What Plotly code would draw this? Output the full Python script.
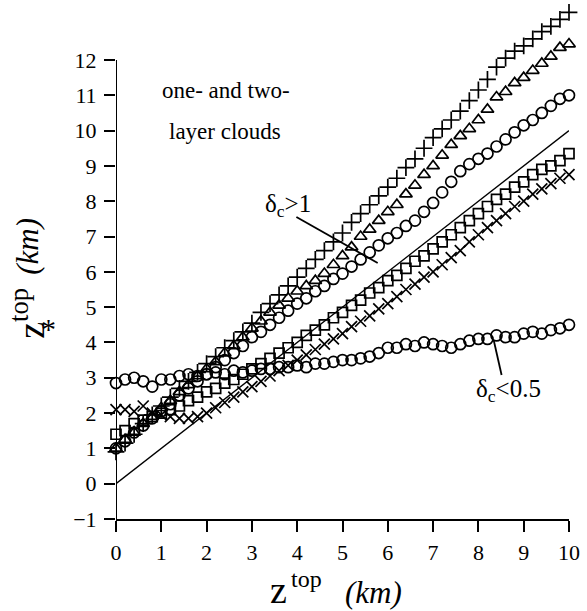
import plotly.graph_objects as go

# ---------------- data ----------------
Z_TOP = [0.0, 0.2, 0.4, 0.6, 0.8, 1.0, 1.2, 1.4, 1.6, 1.8,
         2.0, 2.2, 2.4, 2.6, 2.8, 3.0, 3.2, 3.4, 3.6, 3.8,
         4.0, 4.2, 4.4, 4.6, 4.8, 5.0, 5.2, 5.4, 5.6, 5.8,
         6.0, 6.2, 6.4, 6.6, 6.8, 7.0, 7.2, 7.4, 7.6, 7.8,
         8.0, 8.2, 8.4, 8.6, 8.8, 9.0, 9.2, 9.4, 9.6, 9.8, 10.0]

PLUS_SERIES = [0.90, 1.15, 1.40, 1.70, 1.95, 2.20, 2.45, 2.70, 2.90, 3.15,
               3.40, 3.60, 3.85, 4.05, 4.30, 4.55, 4.85, 5.10, 5.35, 5.60,
               5.85, 6.10, 6.35, 6.60, 6.85, 7.10, 7.40, 7.65, 7.90, 8.15,
               8.40, 8.65, 8.95, 9.20, 9.50, 9.80, 10.05, 10.30, 10.55, 10.85,
               11.15, 11.45, 11.80, 12.05, 12.25, 12.40, 12.60, 12.80, 12.95, 13.15, 13.35]

TRIANGLE_SERIES = [1.00, 1.25, 1.45, 1.70, 1.90, 2.15, 2.35, 2.60, 2.80, 3.05,
                   3.25, 3.45, 3.70, 3.90, 4.15, 4.40, 4.60, 4.85, 5.05, 5.25,
                   5.45, 5.60, 5.75, 5.95, 6.20, 6.45, 6.70, 7.00, 7.20, 7.45,
                   7.70, 7.90, 8.20, 8.45, 8.75, 9.00, 9.30, 9.60, 9.85, 10.05,
                   10.30, 10.60, 10.95, 11.10, 11.35, 11.50, 11.70, 11.90, 12.10, 12.35, 12.45]

CIRCLE_HIGH = [1.00, 1.20, 1.45, 1.65, 1.85, 2.05, 2.25, 2.50, 2.70, 2.90,
               3.10, 3.30, 3.50, 3.70, 3.90, 4.15, 4.30, 4.50, 4.70, 4.90,
               5.10, 5.25, 5.45, 5.60, 5.80, 5.95, 6.15, 6.35, 6.55, 6.75,
               6.95, 7.10, 7.30, 7.45, 7.70, 7.95, 8.25, 8.55, 8.85, 9.05,
               9.20, 9.35, 9.55, 9.75, 9.95, 10.15, 10.30, 10.50, 10.70, 10.90, 11.00]

SQUARE_SERIES = [1.40, 1.50, 1.70, 1.80, 1.90, 2.00, 2.10, 2.20, 2.35, 2.45,
                 2.60, 2.70, 2.85, 2.95, 3.10, 3.25, 3.40, 3.55, 3.70, 3.85,
                 4.00, 4.20, 4.35, 4.50, 4.70, 4.85, 5.05, 5.20, 5.40, 5.55,
                 5.75, 5.90, 6.10, 6.30, 6.45, 6.65, 6.85, 7.05, 7.25, 7.45,
                 7.65, 7.85, 8.05, 8.20, 8.40, 8.55, 8.75, 8.90, 9.00, 9.15, 9.35]

CROSS_SERIES = [2.10, 2.10, 2.05, 2.20, 2.00, 1.95, 1.90, 1.85, 1.85, 1.90,
                2.00, 2.15, 2.30, 2.45, 2.60, 2.75, 2.90, 3.05, 3.20, 3.35,
                3.50, 3.65, 3.80, 3.95, 4.10, 4.25, 4.45, 4.60, 4.75, 4.95,
                5.10, 5.30, 5.50, 5.65, 5.85, 6.00, 6.20, 6.40, 6.60, 6.85,
                7.05, 7.25, 7.45, 7.65, 7.85, 8.00, 8.20, 8.35, 8.50, 8.65, 8.75]

CIRCLE_LOW = [2.85, 2.95, 3.00, 2.90, 2.75, 2.95, 2.95, 3.05, 3.10, 3.05,
              3.10, 3.15, 3.10, 3.20, 3.15, 3.20, 3.25, 3.25, 3.30, 3.30,
              3.35, 3.30, 3.40, 3.40, 3.45, 3.50, 3.50, 3.55, 3.60, 3.70,
              3.85, 3.85, 3.95, 3.90, 4.00, 3.95, 3.90, 3.85, 3.95, 4.05,
              4.10, 4.10, 4.20, 4.15, 4.15, 4.25, 4.30, 4.25, 4.35, 4.40, 4.50]

ONE_TO_ONE_X = [0, 10]
ONE_TO_ONE_Y = [0, 10]

X_TICKS = [0, 1, 2, 3, 4, 5, 6, 7, 8, 9, 10]
Y_TICKS = [-1, 0, 1, 2, 3, 4, 5, 6, 7, 8, 9, 10, 11, 12]

# ---------------- figure ----------------
W, H = 587, 611
ML, MR, MT, MB = 116, 14, 7, 92
PW, PH = W - ML - MR, H - MT - MB


def px(xp, yp):
    return (xp - ML) / PW, (H - MB - yp) / PH


fig = go.Figure()

fig.add_trace(go.Scatter(x=ONE_TO_ONE_X, y=ONE_TO_ONE_Y, mode="lines",
                         line=dict(color="black", width=1.3), cliponaxis=False))

series = [
    (CIRCLE_LOW, "circle-open", 11),
    (CROSS_SERIES, "x-thin-open", 11),
    (SQUARE_SERIES, "square-open", 10),
    (CIRCLE_HIGH, "circle-open", 11),
    (TRIANGLE_SERIES, "triangle-up-open", 11),
    (PLUS_SERIES, "cross-thin-open", 12),
]
for vals, sym, sz in series:
    fig.add_trace(go.Scatter(
        x=Z_TOP, y=vals, mode="markers", cliponaxis=False,
        marker=dict(symbol=sym, size=sz, color="black",
                    line=dict(color="black", width=1.7))))

serif = "Liberation Serif"
tickfont = dict(family="Liberation Serif", size=22, color="black")

fig.update_layout(
    width=W, height=H,
    margin=dict(l=ML, r=MR, t=MT, b=MB),
    paper_bgcolor="white", plot_bgcolor="white",
    showlegend=False,
    xaxis=dict(range=[0, 10], tickvals=X_TICKS, ticks="outside", ticklen=11,
               tickwidth=1.5, tickcolor="black", showline=True, linewidth=2,
               linecolor="black", showgrid=False, zeroline=False,
               tickfont=tickfont, ticklabelstandoff=2),
    yaxis=dict(range=[-1, 13.5], tickvals=Y_TICKS, ticks="outside", ticklen=11,
               tickwidth=1.5, tickcolor="black", showline=False,
               showgrid=False, zeroline=False, tickfont=tickfont,
               ticklabelstandoff=3),
)

# left axis line only from -1 to 12
fig.add_shape(type="line", xref="x", yref="y", x0=0, x1=0, y0=-1, y1=12,
              line=dict(color="black", width=2))


def note(text, xp, yp, size, angle=0, xanchor="center", yanchor="middle"):
    x, y = px(xp, yp)
    fig.add_annotation(text=text, x=x, y=y, xref="paper", yref="paper",
                       showarrow=False, textangle=angle, xanchor=xanchor,
                       yanchor=yanchor, font=dict(family=serif, size=size,
                                                  color="black"))


note("one- and two-", 227, 90, 23)
note("layer clouds", 226, 131, 23)
note("δ<sub>c</sub>>1", 290, 205, 25)
note("δ<sub>c</sub>&lt;0.5", 512, 390, 25)

for (x0p, y0p, x1p, y1p) in [(298, 217, 380, 263), (505, 375, 497, 340)]:
    a0, b0 = px(x0p, y0p)
    a1, b1 = px(x1p, y1p)
    fig.add_shape(type="line", xref="paper", yref="paper", x0=a0, y0=b0,
                  x1=a1, y1=b1, line=dict(color="black", width=1.8))

# axis titles
note("z", 280, 590, 38)
note("top", 308, 579, 24)
note("<i>(km)</i>", 376, 592, 31)
note("z<sup>top</sup>", 27, 313, 38, angle=-90)
note("*", 48, 328, 30)
note("<i>(km)</i>", 26, 246, 31, angle=-90)

fig.write_html("out.html")
